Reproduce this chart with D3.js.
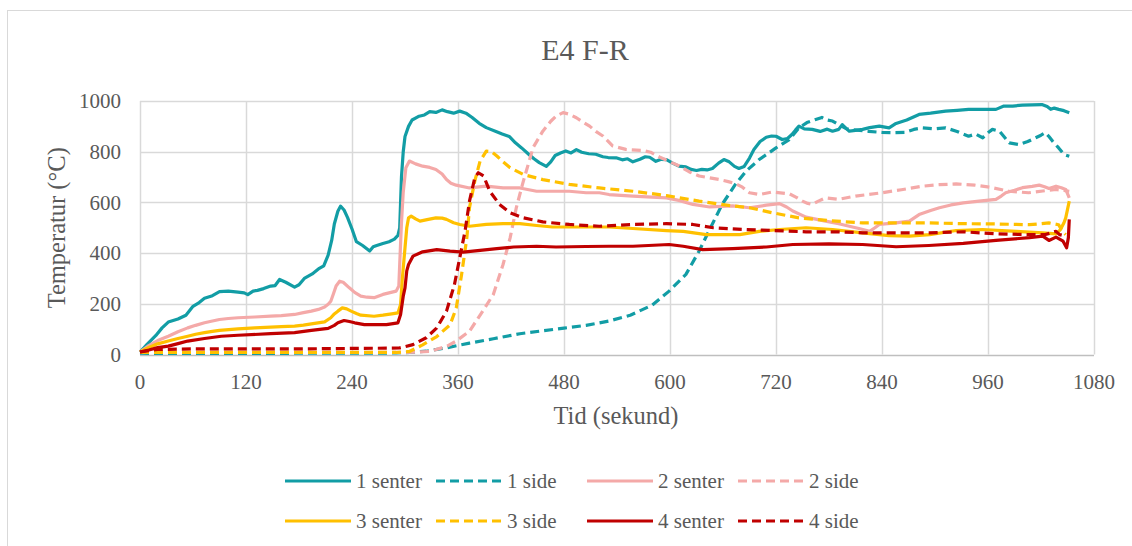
<!DOCTYPE html>
<html>
<head>
<meta charset="utf-8">
<script src="https://cdn.jsdelivr.net/npm/d3@7"></script>
<style>
  body { margin: 0; background: #fff; }
  text { font-family: "Liberation Serif", "Times New Roman", serif; fill: #595959; }
</style>
</head>
<body>
<div id="chart"></div>
<script>
// Tick labels
const xTicks = [0, 120, 240, 360, 480, 600, 720, 840, 960, 1080];
const yTicks = [0, 200, 400, 600, 800, 1000];

// Series: [time (s), temperature (°C)]
const senter1 = [[0,10],[8,40],[18,75],[25,105],[32,128],[43,140],[52,155],[60,190],[67,205],[73,222],[82,232],[90,248],[100,250],[111,246],[118,243],[122,236],[128,250],[133,253],[140,260],[148,270],[153,272],[158,296],[165,285],[175,266],[180,275],[186,300],[195,318],[203,340],[208,350],[213,392],[217,450],[220,515],[224,565],[227,585],[231,570],[235,540],[240,495],[245,445],[252,430],[260,408],[264,425],[268,430],[275,438],[282,445],[288,455],[292,470],[294,500],[296,700],[298,800],[300,860],[304,900],[308,925],[316,940],[322,945],[328,958],[335,955],[342,965],[348,958],[355,952],[362,960],[369,952],[376,935],[384,912],[392,895],[403,880],[410,870],[418,860],[425,835],[432,815],[440,790],[446,772],[452,757],[460,742],[465,760],[470,785],[476,795],[482,803],[488,795],[494,808],[500,798],[508,792],[516,790],[524,780],[530,777],[539,776],[546,768],[552,772],[558,760],[566,770],[572,780],[577,778],[584,762],[590,770],[596,769],[603,755],[610,743],[618,740],[624,730],[630,726],[636,730],[642,728],[648,734],[655,755],[661,769],[667,760],[673,742],[678,734],[684,742],[690,775],[695,809],[702,840],[709,857],[715,862],[720,861],[727,848],[733,852],[738,868],[742,885],[746,901],[752,890],[761,888],[770,880],[778,889],[784,881],[791,888],[795,907],[800,890],[803,881],[810,884],[818,888],[826,895],[837,901],[848,894],[855,910],[868,925],[882,947],[895,952],[912,960],[925,963],[938,967],[955,967],[969,967],[978,980],[988,980],[999,984],[1010,985],[1021,986],[1027,978],[1031,967],[1035,972],[1040,967],[1046,962],[1052,954]];
const side1 = [[0,5],[60,4],[120,4],[180,5],[240,5],[290,6],[310,9],[324,13],[345,25],[373,45],[400,62],[430,82],[455,93],[480,104],[505,115],[531,132],[555,155],[580,195],[599,250],[618,316],[633,408],[644,487],[659,592],[674,671],[686,723],[701,769],[720,815],[735,848],[746,894],[755,915],[765,927],[772,935],[778,925],[784,921],[792,905],[800,890],[812,885],[825,880],[840,876],[855,875],[866,876],[876,888],[886,894],[900,890],[912,894],[925,880],[938,861],[946,870],[954,855],[960,875],[965,888],[973,881],[978,860],[984,835],[995,828],[1005,840],[1014,855],[1020,865],[1025,875],[1029,860],[1033,842],[1040,815],[1046,789],[1052,782]];
const senter2 = [[0,10],[10,35],[20,55],[32,72],[43,90],[54,105],[63,115],[73,125],[82,132],[90,138],[100,142],[111,145],[130,148],[148,151],[160,153],[175,158],[185,165],[194,171],[202,178],[209,187],[213,198],[216,210],[219,240],[222,270],[226,289],[230,285],[237,263],[243,245],[250,230],[257,226],[265,224],[275,237],[290,250],[293,270],[294,355],[296,520],[298,640],[301,737],[305,763],[312,752],[320,743],[328,738],[335,730],[342,712],[347,690],[352,676],[358,668],[373,657],[392,664],[411,657],[430,657],[449,644],[467,644],[486,644],[505,638],[520,638],[531,631],[558,625],[596,618],[610,608],[626,592],[645,582],[671,586],[690,579],[709,589],[724,595],[732,582],[739,566],[754,542],[776,526],[791,516],[803,506],[815,496],[826,486],[832,500],[837,513],[856,519],[871,526],[882,552],[895,568],[905,579],[918,590],[932,598],[950,605],[969,612],[975,625],[980,638],[990,648],[999,658],[1010,663],[1018,668],[1024,662],[1029,655],[1037,664],[1043,658],[1048,651],[1052,618]];
const side2 = [[0,10],[60,8],[120,8],[180,8],[240,8],[300,8],[328,12],[347,32],[358,53],[373,92],[388,171],[400,237],[411,355],[419,460],[426,579],[434,684],[445,816],[456,881],[465,920],[471,940],[479,954],[486,948],[494,934],[501,918],[509,901],[516,880],[524,862],[535,823],[550,809],[569,805],[578,798],[588,779],[600,760],[611,743],[622,720],[633,704],[645,697],[656,690],[666,682],[675,673],[682,660],[690,638],[701,631],[716,641],[735,634],[743,620],[750,605],[756,596],[761,592],[768,605],[776,618],[791,612],[810,625],[840,638],[862,650],[886,664],[905,670],[924,673],[945,668],[962,660],[984,644],[1006,638],[1022,645],[1037,651],[1052,644]];
const senter3 = [[0,10],[10,28],[20,42],[32,53],[43,63],[54,72],[63,80],[73,86],[82,91],[90,95],[111,101],[130,105],[148,108],[160,110],[175,112],[185,116],[194,121],[209,129],[216,145],[220,160],[224,171],[229,184],[234,180],[239,171],[245,162],[250,155],[265,151],[275,155],[285,160],[292,164],[295,197],[297,300],[300,421],[302,500],[304,539],[307,546],[312,535],[317,526],[325,532],[335,539],[342,538],[347,533],[355,520],[362,513],[373,506],[392,513],[411,516],[430,516],[449,509],[467,503],[505,503],[531,503],[558,497],[596,489],[615,486],[641,473],[660,473],[679,473],[701,486],[724,493],[754,500],[784,493],[818,480],[848,469],[871,467],[894,473],[924,489],[954,493],[992,486],[1022,480],[1037,476],[1042,493],[1046,520],[1048,539],[1052,605]];
const side3 = [[0,8],[60,8],[120,8],[180,8],[240,8],[290,8],[305,12],[320,38],[336,71],[351,117],[358,183],[364,314],[370,460],[373,579],[379,684],[385,763],[392,802],[398,800],[404,783],[411,760],[419,737],[434,710],[456,690],[486,671],[520,657],[558,644],[596,627],[633,605],[671,586],[690,579],[716,559],[746,539],[780,528],[818,519],[856,519],[893,519],[932,516],[969,515],[1007,512],[1029,519],[1040,512],[1044,486],[1048,473]];
const senter4 = [[0,10],[10,18],[20,27],[32,33],[43,43],[54,53],[73,63],[92,72],[111,76],[148,82],[175,86],[194,95],[213,103],[220,115],[224,125],[231,134],[237,130],[243,125],[254,118],[269,118],[279,118],[292,125],[295,158],[298,230],[300,263],[302,330],[304,355],[309,388],[320,405],[336,414],[351,408],[366,404],[385,411],[404,418],[423,424],[449,427],[471,424],[505,426],[531,427],[558,427],[599,434],[615,427],[637,414],[671,418],[709,424],[739,434],[780,436],[818,434],[856,425],[893,430],[932,438],[969,450],[1007,461],[1022,467],[1029,450],[1037,463],[1045,447],[1049,421],[1051,461],[1052,533]];
const side4 = [[0,10],[10,15],[20,20],[60,22],[120,22],[180,22],[240,24],[280,25],[294,26],[309,39],[324,66],[336,105],[347,171],[356,276],[362,382],[368,487],[373,605],[379,697],[383,717],[389,704],[396,644],[407,592],[419,559],[434,539],[456,523],[486,513],[520,506],[558,513],[596,516],[626,513],[649,500],[686,493],[716,489],[754,484],[791,484],[818,480],[856,480],[893,480],[932,484],[969,476],[1007,473],[1025,473],[1037,486],[1041,473],[1048,467]];

const seriesNames = ["1 senter", "1 side", "2 senter", "2 side", "3 senter", "3 side", "4 senter", "4 side"];
const seriesData = [senter1, side1, senter2, side2, senter3, side3, senter4, side4];
const seriesColors = ["#129DA5", "#129DA5", "#F4A9A8", "#F4A9A8", "#FFC000", "#FFC000", "#C00000", "#C00000"];

const width = 1132, height = 546;
const plot = { left: 140, right: 1094, top: 101, bottom: 354.5 };

const svg = d3.select("#chart").append("svg")
  .attr("width", width)
  .attr("height", height);

// Chart border (only left and top visible)
svg.append("rect")
  .attr("x", 7.5).attr("y", 10.5)
  .attr("width", 1300).attr("height", 700)
  .attr("fill", "none")
  .attr("stroke", "#D9D9D9");

const x = d3.scaleLinear().domain([0, 1080]).range([plot.left, plot.right]);
const y = d3.scaleLinear().domain([0, 1000]).range([plot.bottom, plot.top]);

// Gridlines
svg.append("g")
  .selectAll("line")
  .data(yTicks.slice(1))
  .enter().append("line")
  .attr("x1", plot.left).attr("x2", plot.right)
  .attr("y1", d => Math.round(y(d)) + 0.5).attr("y2", d => Math.round(y(d)) + 0.5)
  .attr("stroke", "#D9D9D9").attr("stroke-width", 1.5);

svg.append("g")
  .selectAll("line")
  .data(xTicks)
  .enter().append("line")
  .attr("x1", d => Math.round(x(d)) + 0.5).attr("x2", d => Math.round(x(d)) + 0.5)
  .attr("y1", plot.top).attr("y2", plot.bottom)
  .attr("stroke", "#D9D9D9").attr("stroke-width", 1.5);

// X axis line
svg.append("line")
  .attr("x1", plot.left).attr("x2", plot.right)
  .attr("y1", Math.round(y(0)) + 0.5).attr("y2", Math.round(y(0)) + 0.5)
  .attr("stroke", "#BFBFBF").attr("stroke-width", 1.5);

// Tick labels
svg.append("g")
  .selectAll("text")
  .data(yTicks)
  .enter().append("text")
  .attr("x", 121)
  .attr("y", d => y(d))
  .attr("dy", "0.35em")
  .attr("text-anchor", "end")
  .style("font-size", "21px")
  .text(d => d);

svg.append("g")
  .selectAll("text")
  .data(xTicks)
  .enter().append("text")
  .attr("x", d => x(d))
  .attr("y", 389)
  .attr("text-anchor", "middle")
  .style("font-size", "21px")
  .text(d => d);

// Titles
svg.append("text")
  .attr("x", 585).attr("y", 60)
  .attr("text-anchor", "middle")
  .style("font-size", "30px")
  .text("E4 F-R");

svg.append("text")
  .attr("x", 616).attr("y", 424)
  .attr("text-anchor", "middle")
  .style("font-size", "24.5px")
  .text("Tid (sekund)");

svg.append("text")
  .attr("transform", `translate(65,${(plot.top + plot.bottom) / 2}) rotate(-90)`)
  .attr("text-anchor", "middle")
  .style("font-size", "24.5px")
  .text("Temperatur (°C)");

// Lines
const line = d3.line()
  .x(d => x(d[0]))
  .y(d => y(d[1]));

seriesData.forEach((data, i) => {
  svg.append("path")
    .datum(data)
    .attr("d", line)
    .attr("fill", "none")
    .attr("stroke", seriesColors[i])
    .attr("stroke-width", 3.2)
    .attr("stroke-linejoin", "round")
    .attr("stroke-dasharray", i % 2 ? "9,5" : null);
});

// Legend
const legend = svg.append("g");
seriesNames.forEach((name, i) => {
  const lx = 285 + (i % 4) * 151;
  const ly = 481 + Math.floor(i / 4) * 40;
  legend.append("line")
    .attr("x1", lx).attr("x2", lx + 66)
    .attr("y1", ly).attr("y2", ly)
    .attr("stroke", seriesColors[i])
    .attr("stroke-width", 3.2)
    .attr("stroke-dasharray", i % 2 ? "9,5" : null);
  legend.append("text")
    .attr("x", lx + 71)
    .attr("y", ly)
    .attr("dy", "0.35em")
    .style("font-size", "21px")
    .text(name);
});
</script>
</body>
</html>
